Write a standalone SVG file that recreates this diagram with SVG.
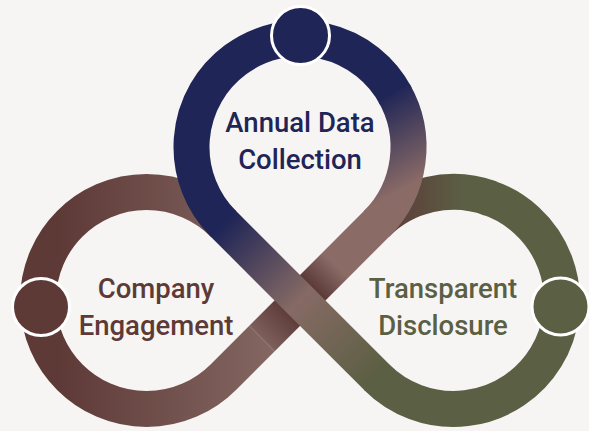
<svg xmlns="http://www.w3.org/2000/svg" width="589" height="431" viewBox="0 0 589 431">
  <defs>
    <style>
      .band { fill: none; stroke-width: 36; stroke-linecap: butt; }
      .node { stroke: #ffffff; stroke-width: 3; }
      .lbl { font-family: Roboto, "Liberation Sans", sans-serif; font-weight: 500; font-size: 27.5px; text-anchor: middle; }
    </style>
    <linearGradient id="gR1" gradientUnits="userSpaceOnUse" x1="410" y1="0" x2="462" y2="0">
      <stop offset="0" stop-color="#5c453b"/>
      <stop offset="1" stop-color="#5b5f43"/>
    </linearGradient>
    <linearGradient id="gL" gradientUnits="userSpaceOnUse" x1="60" y1="0" x2="280" y2="0">
      <stop offset="0" stop-color="#5e3a37"/>
      <stop offset="1" stop-color="#856863"/>
    </linearGradient>
    <linearGradient id="gB" gradientUnits="userSpaceOnUse" x1="365" y1="80" x2="420" y2="180">
      <stop offset="0.2" stop-color="#1f2557"/>
      <stop offset="1" stop-color="#8a6b66"/>
    </linearGradient>
    <linearGradient id="gS2" gradientUnits="userSpaceOnUse" x1="376.72" y1="223.72" x2="262" y2="338.44">
      <stop offset="0" stop-color="#8a6b66"/>
      <stop offset="0.36" stop-color="#8a6b66"/>
      <stop offset="0.558" stop-color="#5b3a38"/>
      <stop offset="0.78" stop-color="#5f3e3b"/>
      <stop offset="1" stop-color="#7d5f5b"/>
    </linearGradient>
    <linearGradient id="gS1" gradientUnits="userSpaceOnUse" x1="223.28" y1="223.72" x2="376.72" y2="377.16">
      <stop offset="0" stop-color="#1f2557"/>
      <stop offset="0.5" stop-color="#866a64"/>
      <stop offset="1" stop-color="#5b5f43"/>
    </linearGradient>
  </defs>
  <rect width="589" height="431" fill="#f6f5f3"/>
  <g id="connectors">
    <path class="band" stroke="url(#gR1)" d="M 376.72,223.72 A 108.5 108.5 0 0 1 490.55,198.48"/>
    <path class="band" stroke="#5b5f43" d="M 486.97,197.25 A 108.5 108.5 0 1 1 376.72,377.16"/>
    <path class="band" stroke="url(#gL)" d="M 262,338.44 L 223.28,377.16 A 108.5 108.5 0 1 1 223.28,223.72"/>
    <path class="band" stroke="#1f2557" d="M 223.28,223.72 A 108.5 108.5 0 1 1 395.80,96.06"/>
    <path class="band" stroke="url(#gB)" d="M 393.96,92.75 A 108.5 108.5 0 0 1 376.72,223.72"/>
    <path class="band" stroke="url(#gS2)" d="M 377.43,223.01 L 262,338.44"/>
    <path class="band" stroke="url(#gS1)" d="M 222.57,223.01 L 377.43,377.87"/>
  </g>
  <g id="node-annual-data-collection">
    <circle class="node" cx="300.5" cy="35.5" r="29" fill="#1f2557"/>
    <text class="lbl" fill="#1f2557" x="300" y="131.5">Annual Data</text>
    <text class="lbl" fill="#1f2557" x="300" y="168.5">Collection</text>
  </g>
  <g id="node-company-engagement">
    <circle class="node" cx="41" cy="307" r="28.5" fill="#5e3a37"/>
    <text class="lbl" fill="#5e3a37" x="156" y="297.5">Company</text>
    <text class="lbl" fill="#5e3a37" x="156" y="335">Engagement</text>
  </g>
  <g id="node-transparent-disclosure">
    <circle class="node" cx="560.5" cy="306.5" r="28.5" fill="#5b5f43"/>
    <text class="lbl" fill="#5b5f43" x="443" y="297.5">Transparent</text>
    <text class="lbl" fill="#5b5f43" x="443" y="335">Disclosure</text>
  </g>
</svg>
